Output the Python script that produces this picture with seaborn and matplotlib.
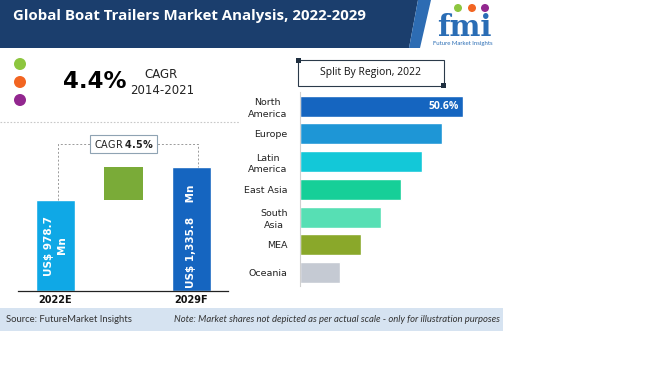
import numpy as np
import pandas as pd
import matplotlib.pyplot as plt
import matplotlib.patches as mpatches
import seaborn as sns

# Data
years = ["2022E", "2029F"]
market_value = [978.7, 1335.8]          # US$ Mn
cagr_hist = "4.4%"
cagr_fcst = "4.5%"

regions = ["North\nAmerica", "Europe", "Latin\nAmerica", "East Asia", "South\nAsia", "MEA", "Oceania"]
region_share = [50.6, 44.1, 37.9, 31.4, 25.1, 18.8, 12.4]   # not to scale
region_colors = ["#1565c0", "#1e96d6", "#13c8d8", "#16cf98", "#57dfb4", "#8aa82a", "#c5cad3"]

W, H = 650, 365
sns.set_theme(style="white")
plt.rcParams["font.family"] = ["Lato", "DejaVu Sans"]

fig = plt.figure(figsize=(W / 100, H / 100), dpi=100)


def px_axes(x0, y0, x1, y1):
    return fig.add_axes([x0 / W, 1 - y1 / H, (x1 - x0) / W, (y1 - y0) / H])


# ---- overlay for the decorations, in pixel coords
ov = fig.add_axes([0, 0, 1, 1])
ov.set_xlim(0, W)
ov.set_ylim(H, 0)
ov.axis("off")

# header banner
ov.add_patch(mpatches.Polygon([(0, 0), (418, 0), (409, 48), (0, 48)], color="#1b3e6d", lw=0))
ov.add_patch(mpatches.Polygon([(418, 0), (431, 0), (420, 48), (409, 48)], color="#2d6cb3", lw=0))
ov.text(13, 16, "Global Boat Trailers Market Analysis, 2022-2029", color="white",
        fontsize=10.8, fontweight="bold", va="center", ha="left", family=["Open Sans", "DejaVu Sans"])

# fmi logo
for cx, col in zip([458, 472, 485], ["#8dc63f", "#f26522", "#92278f"]):
    ov.add_patch(mpatches.Circle((cx, 8), 4, color=col, lw=0))
ov.text(464, 36, "fmi", color="#2a6db5", fontsize=21, fontweight="bold", ha="center", va="baseline",
        family=["DejaVu Serif"])
ov.text(463, 44, "Future Market Insights", color="#2a6db5", fontsize=4.3, ha="center", va="center")

# legend-like dots
for cy, col in zip([64, 82, 100], ["#8dc63f", "#f26522", "#92278f"]):
    ov.add_patch(mpatches.Circle((20, cy), 6, color=col, lw=0))

ov.text(63, 82, cagr_hist, fontsize=16.5, fontweight="bold", color="black", ha="left", va="center",
        family=["DejaVu Sans"])
ov.text(161, 75, "CAGR", fontsize=8.5, color="#222222", ha="center", va="center", family=["DejaVu Sans"])
ov.text(162, 91, "2014-2021", fontsize=8.5, color="#222222", ha="center", va="center", family=["DejaVu Sans"])

# dotted separator
ov.plot([0, 240], [122, 122], ls=(0, (1.5, 1.5)), color="#c8c8c8", lw=0.8)

# "Split By Region" box
ov.add_patch(mpatches.Rectangle((298, 60), 146, 26, fill=False, ec="#2b3a4a", lw=0.8))
ov.add_patch(mpatches.Rectangle((296, 58), 5, 5, color="#1f2f40", lw=0))
ov.add_patch(mpatches.Rectangle((441, 83), 5, 5, color="#1f2f40", lw=0))
ov.text(371, 73, "Split By Region, 2022", fontsize=7.5, color="#111111", ha="center", va="center",
        family=["Open Sans", "DejaVu Sans"])

# footer
ov.add_patch(mpatches.Rectangle((0, 308), 503, 23, color="#d6e3f1", lw=0))
ov.text(6, 320, "Source: FutureMarket Insights", fontsize=6.8, color="#333333", ha="left", va="center")
ov.text(174, 320, "Note: Market shares not depicted as per actual scale - only for illustration purposes",
        fontsize=6.8, color="#333333", ha="left", va="center", style="italic")

# ---- left chart: market value waterfall
axl = px_axes(18, 130, 228, 291)
axl.set_facecolor("none")
order = ["2022E", "", "2029F"]
df_val = pd.DataFrame({"year": years, "value": market_value})
sns.barplot(data=df_val, x="year", y="value", hue="year", order=order,
            palette=["#0fa8e6", "#1565c0"], width=0.57, legend=False, ax=axl, saturation=1)
axl.bar(1, market_value[1] - market_value[0], bottom=market_value[0], width=0.57,
        color="#7aab38", lw=0)
axl.set_xlim(-0.551, 2.537)
axl.set_ylim(0, market_value[1] * 161 / 124)
axl.set_xlabel("")
axl.set_ylabel("")
axl.set_yticks([])
for s in ["top", "right", "left"]:
    axl.spines[s].set_visible(False)
axl.spines["bottom"].set_color("#222222")
axl.spines["bottom"].set_linewidth(0.9)
axl.tick_params(axis="x", length=0, pad=3)
for lab in axl.get_xticklabels():
    lab.set_fontweight("bold")
    lab.set_fontsize(7)
    lab.set_family(["DejaVu Sans"])
    lab.set_color("#111111")

# bracket + CAGR box
lvl = market_value[1] * 1.185
axl.plot([0.04, 0.04, 2.09, 2.09], [market_value[0], lvl, lvl, market_value[1]], ls=(0, (2, 2)),
         color="#9a9a9a", lw=0.7, zorder=1)
axl.text(1, lvl, "CAGR " + r"$\bf{" + cagr_fcst.replace("%", r"\%") + "}$", fontsize=7,
         ha="center", va="center", color="#222222", family=["DejaVu Sans"], zorder=3,
         bbox=dict(boxstyle="square,pad=0.35", fc="white", ec="#8fa3b3", lw=0.8))

axl.text(0, market_value[0] / 2, "US$ 978.7\nMn", rotation=90, color="white", fontsize=7.5,
         fontweight="bold", ha="center", va="center", family=["DejaVu Sans"], linespacing=1.3)
axl.text(2, market_value[1] * 0.44, "US$ 1,335.8    Mn", rotation=90, color="white", fontsize=7.5,
         fontweight="bold", ha="center", va="center", family=["DejaVu Sans"])

# ---- right chart: split by region
axr = px_axes(300, 92.35, 500, 286.35)
axr.set_facecolor("none")
df_reg = pd.DataFrame({"region": regions, "share": region_share})
sns.barplot(data=df_reg, x="share", y="region", hue="region", palette=region_colors,
            width=0.76, legend=False, ax=axr, saturation=1, orient="h")
axr.set_xlim(0, region_share[0] * 200 / 163)
axr.set_ylim(6.5, -0.5)
axr.set_xlabel("")
axr.set_ylabel("")
axr.set_xticks([])
for s in ["top", "right", "bottom"]:
    axr.spines[s].set_visible(False)
axr.spines["left"].set_color("#d0d0d0")
axr.spines["left"].set_linewidth(0.8)
axr.tick_params(axis="y", length=0, pad=9)
for lab in axr.get_yticklabels():
    lab.set_fontsize(6.8)
    lab.set_family(["DejaVu Sans"])
    lab.set_color("#222222")
    lab.set_multialignment("center")
    lab.set_linespacing(1.4)
axr.text(region_share[0] - 1.2, 0, f"{region_share[0]}%", color="white", fontsize=7.5,
         fontweight="bold", ha="right", va="center", family=["Open Sans", "DejaVu Sans"])

fig.savefig("out.png", dpi=100, facecolor="white")
